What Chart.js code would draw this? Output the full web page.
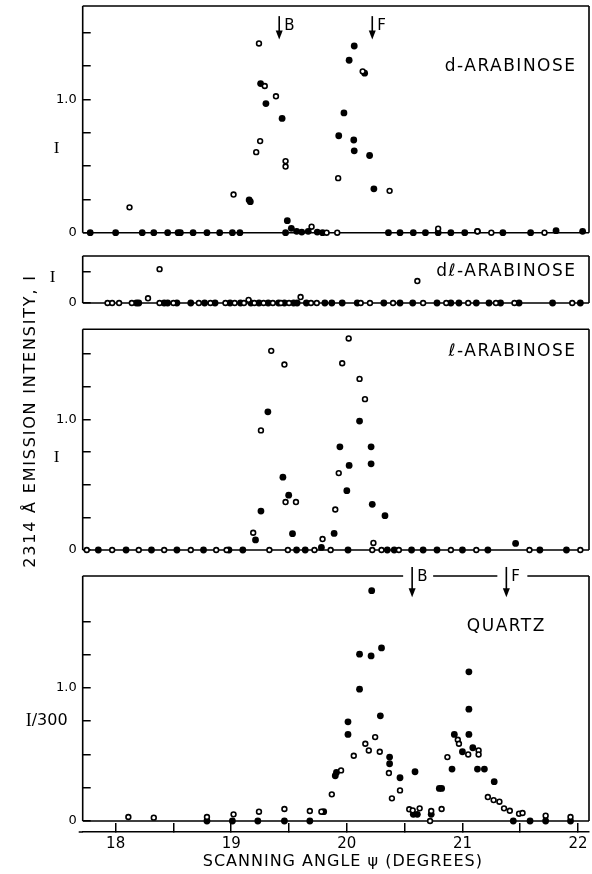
<!DOCTYPE html>
<html lang="en">
<head>
<meta charset="UTF-8">
<title>2314 Å emission intensity vs scanning angle</title>
<script src="https://cdn.jsdelivr.net/npm/chart.js@4.4.3/dist/chart.umd.min.js"></script>
<style>
  body { margin: 0; background: #fff; }
  #wrap { position: relative; width: 592px; height: 874px; }
  #wrap canvas { position: absolute; left: 0; top: 0; }
</style>
</head>
<body>
<div id="wrap">
  <canvas id="pD" width="592" height="874"></canvas>
  <canvas id="pDL" width="592" height="874"></canvas>
  <canvas id="pL" width="592" height="874"></canvas>
  <canvas id="pQ" width="592" height="874"></canvas>
</div>
<script>
// scanning angle range (degrees)
const X_MIN = 17.715, X_MAX = 22.095;

// d-arabinose
const dFillX = [17.78, 18.00, 18.23, 18.33, 18.45, 18.54, 18.56, 18.67, 18.79, 18.90, 19.01, 19.075, 19.155, 19.165, 19.254, 19.30, 19.44, 19.47, 19.485, 19.52, 19.566, 19.61, 19.666, 19.744, 19.79, 19.93, 19.975, 20.02, 20.064, 20.06, 20.064, 20.154, 20.197, 20.234, 20.36, 20.46, 20.575, 20.68, 20.79, 20.90, 21.02, 21.13, 21.35, 21.59, 21.81, 22.04];
const dFillY = [0, 0, 0, 0, 0, 0, 0, 0, 0, 0, 0, 0, 0.246, 0.233, 1.118, 0.968, 0.857, 0, 0.09, 0.033, 0.01, 0.005, 0.01, 0.005, 0, 0.727, 0.898, 1.293, 1.40, 0.695, 0.614, 1.196, 0.579, 0.329, 0, 0, 0, 0, 0, 0, 0, 0.01, 0, 0, 0.015, 0.01];
const dOpenX = [18.12, 19.02, 19.216, 19.24, 19.25, 19.29, 19.387, 19.47, 19.47, 19.695, 19.825, 19.917, 19.925, 20.137, 20.37, 20.79, 21.13, 21.25, 21.71];
const dOpenY = [0.19, 0.286, 0.604, 1.419, 0.687, 1.10, 1.023, 0.537, 0.496, 0.045, 0, 0, 0.409, 1.21, 0.314, 0.03, 0.01, 0, 0];
const dArrowX = [19.415, 20.22];

// dl-arabinose
const dlFillX = [18.18, 18.20, 18.42, 18.45, 18.53, 18.65, 18.77, 18.86, 18.99, 19.08, 19.17, 19.24, 19.32, 19.41, 19.46, 19.54, 19.57, 19.65, 19.81, 19.87, 19.96, 20.09, 20.32, 20.46, 20.57, 20.78, 20.90, 20.97, 21.12, 21.23, 21.33, 21.49, 21.78, 22.02];
const dlFillY = [0, 0, 0, 0, 0, 0, 0, 0, 0, 0, 0, 0, 0, 0, 0, 0, 0, 0, 0, 0, 0, 0, 0, 0, 0, 0, 0, 0, 0, 0, 0, 0, 0, 0];
const dlOpenX = [17.93, 17.97, 18.03, 18.14, 18.28, 18.38, 18.38, 18.50, 18.72, 18.82, 18.95, 19.03, 19.11, 19.15, 19.20, 19.28, 19.36, 19.43, 19.50, 19.60, 19.69, 19.74, 20.12, 20.20, 20.40, 20.61, 20.66, 20.86, 21.05, 21.29, 21.45, 21.95];
const dlOpenY = [0, 0, 0, 0, 0.15, 1.08, 0, 0, 0, 0, 0, 0, 0, 0.10, 0, 0, 0, 0, 0, 0.19, 0, 0, 0, 0, 0, 0.70, 0, 0, 0, 0, 0, 0];

// l-arabinose
const lFillX = [17.85, 18.09, 18.31, 18.53, 18.76, 18.98, 19.10, 19.21, 19.257, 19.317, 19.447, 19.497, 19.53, 19.565, 19.64, 19.78, 19.89, 19.94, 20.00, 20.01, 20.02, 20.11, 20.21, 20.21, 20.22, 20.33, 20.35, 20.41, 20.56, 20.66, 20.78, 21.00, 21.22, 21.46, 21.67, 21.90];
const lFillY = [0, 0, 0, 0, 0, 0, 0, 0.077, 0.298, 1.058, 0.558, 0.42, 0.125, 0, 0, 0.02, 0.127, 0.79, 0.454, 0, 0.648, 0.987, 0.79, 0.66, 0.35, 0.263, 0, 0, 0, 0, 0, 0, 0, 0.05, 0, 0];
const lOpenX = [17.75, 17.97, 18.20, 18.42, 18.65, 18.87, 18.96, 19.19, 19.257, 19.33, 19.346, 19.46, 19.47, 19.49, 19.56, 19.72, 19.79, 19.86, 19.90, 19.93, 19.96, 20.016, 20.11, 20.157, 20.22, 20.23, 20.30, 20.45, 20.90, 21.12, 21.58, 22.02];
const lOpenY = [0, 0, 0, 0, 0, 0, 0, 0.132, 0.916, 0, 1.525, 1.42, 0.367, 0, 0.367, 0, 0.084, 0, 0.31, 0.589, 1.43, 1.62, 1.31, 1.155, 0, 0.054, 0, 0, 0, 0, 0, 0];

// quartz (I/300)
const qFillX = [18.79, 19.01, 19.23, 19.46, 19.68, 19.80, 19.90, 19.91, 20.01, 20.01, 20.11, 20.11, 20.215, 20.21, 20.30, 20.29, 20.37, 20.37, 20.46, 20.59, 20.575, 20.61, 20.73, 20.80, 20.82, 20.91, 20.93, 21.00, 21.056, 21.056, 21.056, 21.09, 21.13, 21.19, 21.275, 21.44, 21.585, 21.72, 21.935];
const qFillY = [0, 0, 0, 0, 0, 0.07, 0.34, 0.365, 0.745, 0.65, 1.253, 0.99, 1.73, 1.24, 1.30, 0.79, 0.48, 0.43, 0.325, 0.37, 0.05, 0.05, 0.05, 0.245, 0.245, 0.39, 0.65, 0.52, 1.12, 0.84, 0.65, 0.55, 0.39, 0.39, 0.295, 0, 0, 0, 0];
const qOpenX = [18.11, 18.33, 18.79, 19.02, 19.24, 19.46, 19.68, 19.78, 19.87, 19.95, 20.06, 20.16, 20.19, 20.245, 20.285, 20.364, 20.39, 20.46, 20.54, 20.57, 20.63, 20.72, 20.73, 20.82, 20.87, 20.96, 20.97, 21.05, 21.14, 21.14, 21.22, 21.27, 21.32, 21.36, 21.41, 21.49, 21.52, 21.72, 21.935];
const qOpenY = [0.03, 0.025, 0.03, 0.05, 0.07, 0.09, 0.075, 0.07, 0.2, 0.38, 0.49, 0.58, 0.53, 0.63, 0.52, 0.36, 0.17, 0.23, 0.088, 0.08, 0.095, 0, 0.075, 0.09, 0.48, 0.61, 0.58, 0.50, 0.53, 0.50, 0.18, 0.157, 0.145, 0.095, 0.077, 0.055, 0.06, 0.04, 0.03];
const qArrowX = [20.565, 21.38];

const SANS = 'DejaVu Sans';
const SERIF = 'Liberation Serif';
Chart.defaults.font.family = SANS;
Chart.defaults.color = '#000';

function pts(xs, ys) {
  return xs.map((x, i) => ({ x: x, y: ys[i] }));
}

function drawText(ctx, parts, x, y, align) {
  // parts: [[text, font]], drawn one after another
  let w = 0;
  parts.forEach(p => { ctx.font = p[1]; w += ctx.measureText(p[0]).width; });
  let cx = align === 'center' ? x - w / 2 : (align === 'right' ? x - w : x);
  ctx.textAlign = 'left';
  parts.forEach(p => { ctx.font = p[1]; ctx.fillText(p[0], cx, y); cx += ctx.measureText(p[0]).width; });
}

// frame, zero line, arrows and labels of each panel
const decor = {
  id: 'decor',
  beforeDatasetsDraw(chart, args, o) {
    const { ctx, chartArea: a, scales: { x, y } } = chart;
    const y0 = y.getPixelForValue(0);
    ctx.save();
    ctx.strokeStyle = '#000';
    ctx.lineWidth = 1.6;
    ctx.beginPath();
    let from = a.left;
    if (o.gaps && o.arrows) {
      o.arrows.x.forEach(v => {
        const px = x.getPixelForValue(v);
        ctx.moveTo(from, a.top); ctx.lineTo(px - 9, a.top);
        from = px + 21;
      });
    }
    ctx.moveTo(from, a.top); ctx.lineTo(a.right, a.top);
    ctx.moveTo(a.left, a.top); ctx.lineTo(a.left, y0);
    ctx.moveTo(a.right, a.top); ctx.lineTo(a.right, y0);
    ctx.moveTo(a.left, y0); ctx.lineTo(a.right, y0);
    if (o.axisStub) {
      // the scale line under the quartz panel runs a little past the frame on the left
      ctx.moveTo(a.left - 4, a.bottom); ctx.lineTo(a.left, a.bottom);
    }
    ctx.stroke();
    ctx.restore();
  },
  afterDraw(chart, args, o) {
    const { ctx, chartArea: a, scales: { x, y } } = chart;
    ctx.save();
    ctx.fillStyle = '#000';
    ctx.strokeStyle = '#000';
    ctx.textBaseline = 'alphabetic';

    if (o.arrows) {
      const ar = o.arrows;
      ar.x.forEach((v, i) => {
        const px = x.getPixelForValue(v);
        const top = y.getPixelForValue(ar.top);
        const tip = y.getPixelForValue(ar.tip);
        ctx.lineWidth = 1.6;
        ctx.beginPath();
        ctx.moveTo(px, top); ctx.lineTo(px, tip - 8);
        ctx.stroke();
        ctx.beginPath();
        ctx.moveTo(px - 3.5, tip - 9); ctx.lineTo(px + 3.5, tip - 9); ctx.lineTo(px, tip);
        ctx.closePath();
        ctx.fill();
        ctx.textBaseline = 'middle';
        ctx.font = '15px ' + SANS;
        ctx.textAlign = 'left';
        ctx.fillText(ar.labels[i], px + 5, top + 10);
        ctx.textBaseline = 'alphabetic';
      });
    }

    if (o.label) {
      ctx.letterSpacing = '1.5px';
      ctx.font = '17px ' + SANS;
      ctx.textAlign = o.label.align;
      ctx.fillText(o.label.text, x.getPixelForValue(o.label.x), y.getPixelForValue(o.label.y));
      ctx.letterSpacing = '0px';
    }

    if (o.yTitle) {
      ctx.textBaseline = 'middle';
      drawText(ctx, o.yTitle.parts, a.left + o.yTitle.dx, y.getPixelForValue(o.yTitle.at), 'center');
      ctx.textBaseline = 'alphabetic';
    }

    if (o.sideTitle) {
      ctx.save();
      ctx.translate(o.sideTitle.cx, o.sideTitle.cy);
      ctx.rotate(-Math.PI / 2);
      ctx.letterSpacing = '1.8px';
      ctx.font = '16px ' + SANS;
      ctx.textAlign = 'center';
      ctx.textBaseline = 'middle';
      ctx.fillText(o.sideTitle.text, 0, 0);
      ctx.restore();
    }

    if (o.xTitle) {
      ctx.letterSpacing = '1px';
      ctx.font = '16px ' + SANS;
      ctx.textAlign = 'center';
      ctx.textBaseline = 'middle';
      ctx.fillText(o.xTitle, (a.left + a.right) / 2 + 7, a.bottom + 30);
    }
    ctx.restore();
  }
};

function makePanel(id, p) {
  const showX = !!p.showX;
  return new Chart(document.getElementById(id), {
    type: 'scatter',
    data: {
      datasets: [
        { label: 'open', data: p.open, pointRadius: 2.4, pointBackgroundColor: '#fff', pointBorderColor: '#000', pointBorderWidth: 1.6, clip: false },
        { label: 'filled', data: p.filled, pointRadius: 3.4, pointBackgroundColor: '#000', pointBorderColor: '#000', pointBorderWidth: 0, clip: false }
      ]
    },
    options: {
      responsive: false,
      animation: false,
      events: [],
      layout: { autoPadding: false, padding: { top: p.top, bottom: p.bottom, left: 0, right: 3 } },
      plugins: { legend: { display: false }, tooltip: { enabled: false }, decor: p.decor },
      scales: {
        x: {
          type: 'linear', min: X_MIN, max: X_MAX,
          display: showX,
          afterFit: s => {
            s.height = showX ? 40 : 0;
            s.paddingLeft = 0; s.paddingRight = 0;
          },
          border: { display: true, color: '#000', width: 1.6 },
          grid: { drawOnChartArea: false, drawTicks: true, tickLength: -9, color: '#000', lineWidth: 1.5 },
          ticks: {
            stepSize: 0.5, includeBounds: false, autoSkip: false, maxRotation: 0, padding: 12,
            font: { size: 15 },
            callback: v => Number.isInteger(v) ? String(v) : ''
          }
        },
        y: {
          type: 'linear', min: p.yMin, max: p.yMax,
          afterFit: s => {
            s.width = 82.7;
            s.paddingTop = 0; s.paddingBottom = 0;
          },
          afterBuildTicks: s => { s.ticks = s.ticks.filter(t => t.value >= 0 && t.value <= 1.5); },
          border: { display: false },
          grid: { drawOnChartArea: false, drawTicks: true, tickLength: -8, color: '#000', lineWidth: 1.5 },
          ticks: {
            stepSize: p.step, includeBounds: false, padding: 14,
            font: { size: 13 },
            callback: p.yLabel
          }
        }
      }
    },
    plugins: [decor]
  });
}

const numLabel = v => v === 0 ? '0' : (v === 1 ? '1.0' : '');
const serifI = [['I', '17px ' + SERIF]];

makePanel('pD', {
  filled: pts(dFillX, dFillY), open: pts(dOpenX, dOpenY),
  top: 6, bottom: 874 - 232.7, yMin: 0, yMax: 1.70, step: 0.25, yLabel: numLabel,
  decor: {
    arrows: { x: dArrowX, labels: ['B', 'F'], top: 1.624, tip: 1.449 },
    label: { text: 'd-ARABINOSE', x: 21.987, y: 1.216, align: 'right' },
    yTitle: { parts: serifI, at: 0.63, dx: -26 }
  }
});

makePanel('pDL', {
  filled: pts(dlFillX, dlFillY), open: pts(dlOpenX, dlOpenY),
  top: 256, bottom: 874 - 303, yMin: 0, yMax: 1.5, step: 1, yLabel: v => v === 0 ? '0' : '',
  decor: {
    label: { text: 'd\u2113-ARABINOSE', x: 21.987, y: 0.86, align: 'right' },
    yTitle: { parts: serifI, at: 0.8, dx: -30 }
  }
});

makePanel('pL', {
  filled: pts(lFillX, lFillY), open: pts(lOpenX, lOpenY),
  top: 329.3, bottom: 874 - 550, yMin: 0, yMax: 1.69, step: 0.25, yLabel: numLabel,
  decor: {
    label: { text: '\u2113-ARABINOSE', x: 21.987, y: 1.484, align: 'right' },
    yTitle: { parts: serifI, at: 0.71, dx: -26 },
    sideTitle: { text: '2314 \u00c5 EMISSION INTENSITY, I', cx: 31, cy: 421 }
  }
});

makePanel('pQ', {
  filled: pts(qFillX, qFillY), open: pts(qOpenX, qOpenY), showX: true,
  top: 576, bottom: 2, yMin: -0.0826, yMax: 1.84, step: 0.25, yLabel: numLabel,
  decor: {
    gaps: true,
    axisStub: true,
    arrows: { x: qArrowX, labels: ['B', 'F'], top: 1.908, tip: 1.68 },
    label: { text: 'QUARTZ', x: 21.38, y: 1.425, align: 'center' },
    yTitle: { parts: [['I', '18px ' + SERIF], ['/300', '16px ' + SANS]], at: 0.75, dx: -36 },
    xTitle: 'SCANNING ANGLE \u03c8 (DEGREES)'
  }
});
</script>
</body>
</html>
